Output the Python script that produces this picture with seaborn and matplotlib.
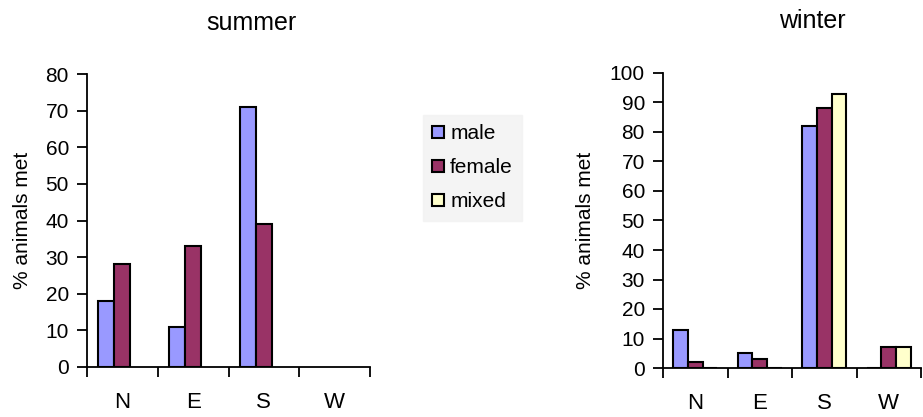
import numpy as np
import pandas as pd
import matplotlib
matplotlib.use("Agg")
import matplotlib.pyplot as plt
import seaborn as sns
from matplotlib.patches import Patch

sns.set_style("white")
plt.rcParams['font.family'] = ['Liberation Sans', 'DejaVu Sans']
plt.rcParams['text.color'] = 'black'
plt.rcParams['axes.labelcolor'] = 'black'
plt.rcParams['xtick.color'] = 'black'
plt.rcParams['ytick.color'] = 'black'

directions = ["N", "E", "S", "W"]
groups = ["male", "female", "mixed"]
summer_male = [18, 11, 71, np.nan]
summer_female = [28, 33, 39, np.nan]
summer_mixed = [np.nan, np.nan, np.nan, np.nan]
winter_male = [13, 5, 82, 0]
winter_female = [2, 3, 88, 7]
winter_mixed = [0, 0, 93, 7]
colors = ["#9999FF", "#993366", "#FFFFCC"]

def make_df(m, f, x):
    rows = []
    for g, vals in zip(groups, [m, f, x]):
        for d, v in zip(directions, vals):
            rows.append({"dir": d, "group": g, "value": v})
    return pd.DataFrame(rows)

summer = make_df(summer_male, summer_female, summer_mixed)
winter = make_df(winter_male, winter_female, winter_mixed)

fig = plt.figure(figsize=(9.23, 4.17), dpi=100)
ax1 = fig.add_axes([87/923, 50/417, 283/923, 293/417])
ax2 = fig.add_axes([663/923, 49/417, 258/923, 295/417])

pal = dict(zip(groups, colors))
for ax, df, ymax, title, tx, ty, ylx in [(ax1, summer, 80, "summer", 251, 23, -0.194),
                                         (ax2, winter, 100, "winter", 812, 21, -0.264)]:
    sns.barplot(data=df, x="dir", y="value", hue="group", hue_order=groups,
                order=directions, palette=pal, width=0.68, dodge=True,
                edgecolor="black", linewidth=1.5, errorbar=None, ax=ax, legend=False,
                saturation=1)
    ax.set_xlim(-0.5, 3.5)
    ax.set_ylim(0, ymax)
    ax.set_yticks(np.arange(0, ymax + 1, 10))
    ax.set_xticks(np.arange(-0.5, 4, 1), minor=True)
    ax.tick_params(axis="x", which="minor", length=7, width=1.3, direction="out", bottom=True)
    ax.tick_params(axis="x", which="major", length=0, pad=18, labelsize=16)
    ax.tick_params(axis="y", which="major", length=7, width=1.3, direction="out", left=True,
                   labelsize=15, pad=6)
    for s in ["top", "right"]:
        ax.spines[s].set_visible(False)
    for s in ["left", "bottom"]:
        ax.spines[s].set_color("black")
        ax.spines[s].set_linewidth(1.3)
    ax.set_xlabel("")
    ax.set_ylabel("% animals met", fontsize=15)
    ax.yaxis.set_label_coords(ylx, 0.5)
    fig.text(tx/923, 1 - ty/417, title, ha="center", va="center", fontsize=18)

handles = [Patch(facecolor=c, edgecolor="black", linewidth=1.5, label=g) for g, c in zip(groups, colors)]
leg = fig.legend(handles=handles, loc="upper left", bbox_to_anchor=(423/923, 1 - 115/417),
                 frameon=True, fontsize=15, handlelength=0.55, handleheight=0.55,
                 handletextpad=0.3, labelspacing=0.72, borderpad=0.45, borderaxespad=0,
                 fancybox=False)
leg.get_frame().set_facecolor("#F2F2F2")
leg.get_frame().set_edgecolor("#F2F2F2")

fig.savefig("out.png", dpi=100)
